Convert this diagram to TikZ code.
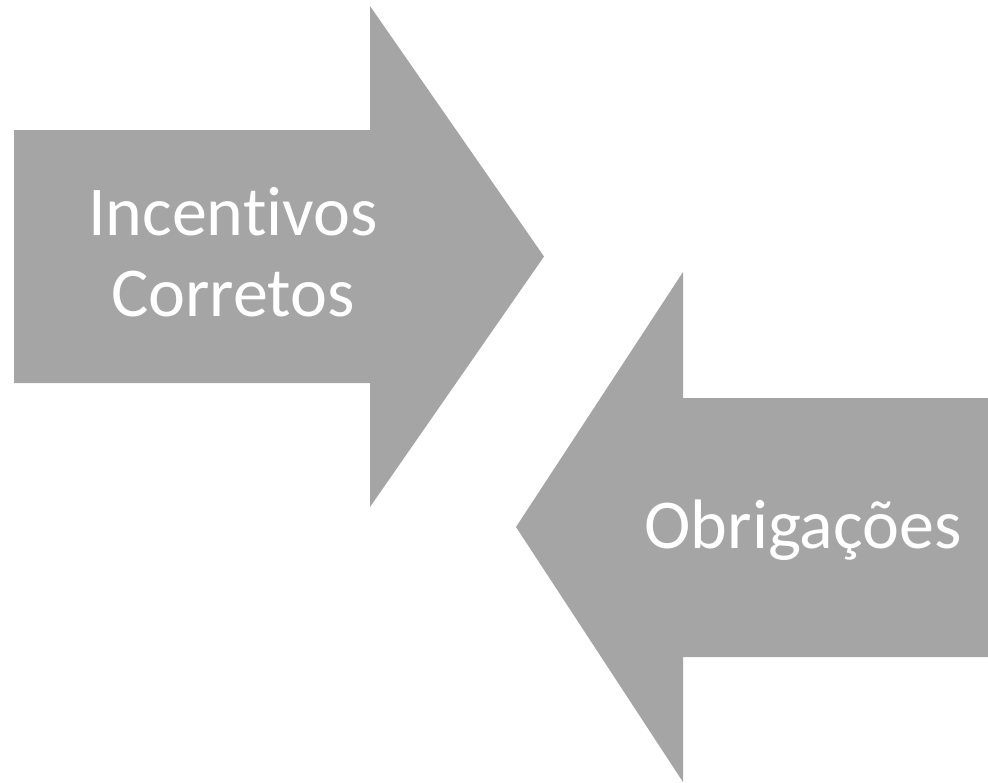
\documentclass[tikz,border=0pt]{standalone}
\usepackage{fontspec}
\setmainfont{Carlito}[Ligatures={NoCommon}]
\definecolor{arrowgray}{HTML}{A5A5A5}
\tikzset{
  bigarrow/.style={fill=arrowgray, draw=none},
  arrowtext/.style={text=white, font=\fontsize{70}{81}\selectfont, anchor=base, inner sep=0pt, align=center}
}
\begin{document}
\begin{tikzpicture}[x=1pt,y=-1pt]
\useasboundingbox (0,0) rectangle (988,782);
% right-pointing arrow
\path[bigarrow] (14,130) -- (370,130) -- (370,6) -- (544,256.5) -- (370,507) -- (370,383) -- (14,383) -- cycle;
% left-pointing arrow
\path[bigarrow] (988,398) -- (683,398) -- (683,272) -- (516,527) -- (683,782) -- (683,657) -- (988,657) -- cycle;
\node[arrowtext] (t1) at (233,235) {Incentivos};
\node[arrowtext] (t2) at (233,316) {Corretos};
\node[arrowtext] (t3) at (803,548) {Obrigações};
\end{tikzpicture}
\end{document}
